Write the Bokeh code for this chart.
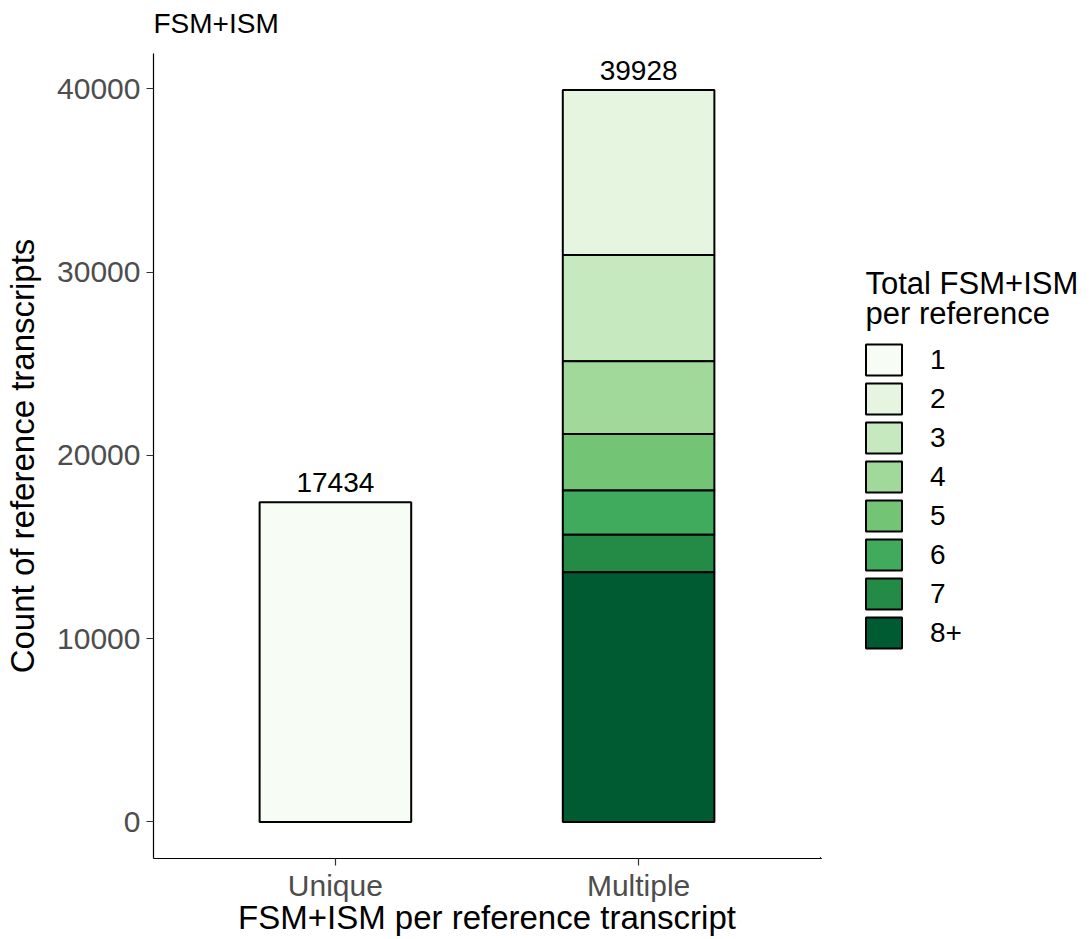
from bokeh.plotting import figure
from bokeh.models import ColumnDataSource, FixedTicker, Range1d, Label
from bokeh.layouts import column, row
from bokeh.palettes import Greens8
from bokeh.embed import file_html
from bokeh.resources import INLINE

# ---- data ----
categories = ["Unique", "Multiple"]
groups = ["1", "2", "3", "4", "5", "6", "7", "8+"]
unique_counts = [17434, 0, 0, 0, 0, 0, 0, 0]
multiple_counts = [0, 8993, 5803, 3970, 3082, 2416, 2040, 13624]
y_ticks = [0, 10000, 20000, 30000, 40000]
colors = list(reversed(Greens8))  # group "1" lightest ... "8+" darkest

counts = {"Unique": unique_counts, "Multiple": multiple_counts}
FONT = "Liberation Sans"
BASE_FIX = 9  # svg alphabetic-baseline correction (px)

# stacked segments: "8+" at the bottom, "1" on top
rows = []
for ci, cat in enumerate(categories):
    bottom = 0
    for gi in reversed(range(len(groups))):
        v = counts[cat][gi]
        if v > 0:
            rows.append((gi, ci + 1, bottom, bottom + v))
            bottom += v
rows.sort(key=lambda r: r[0])
seg = ColumnDataSource(dict(
    x=[r[1] for r in rows],
    bottom=[r[2] for r in rows],
    top=[r[3] for r in rows],
    group=[groups[r[0]] for r in rows],
    color=[colors[r[0]] for r in rows],
))

totals = [sum(counts[c]) for c in categories]
tot_src = ColumnDataSource(dict(x=[i + 1 for i in range(len(categories))],
                                y=totals, label=[str(t) for t in totals]))

ymax = max(totals)
pad = 0.05 * ymax

# ---- layout sizes (px) ----
W, H = 1090, 939
TOP_H = 53
MAIN_W = 820
LEG_W = W - MAIN_W
BODY_H = H - TOP_H
BOTTOM_BORDER = 81
FRAME_H = BODY_H - BOTTOM_BORDER   # shared frame height of the body row
FRAME_BOTTOM_ABS = TOP_H + FRAME_H


def bare(fig):
    fig.outline_line_color = None
    fig.xgrid.visible = False
    fig.ygrid.visible = False
    return fig


# ---- top strip with the plot title ----
top = bare(figure(width=W, height=TOP_H, output_backend="svg", toolbar_location=None,
                  x_range=Range1d(0, 1), y_range=Range1d(0, 1),
                  x_axis_location=None, y_axis_location=None, min_border=0))
top.add_layout(Label(x=153, y=TOP_H - 32 + BASE_FIX, x_units="screen", y_units="screen",
                     text="FSM+ISM", text_font=FONT, text_font_size="28px",
                     text_color="black", text_baseline="alphabetic"))

# ---- main chart ----
p = bare(figure(width=MAIN_W, height=BODY_H, output_backend="svg", toolbar_location=None,
                x_range=Range1d(0.4, len(categories) + 0.6), y_range=Range1d(-pad, ymax + pad),
                min_border_left=153, min_border_right=0, min_border_top=0,
                min_border_bottom=BOTTOM_BORDER))

p.vbar(x="x", bottom="bottom", top="top", width=0.5, source=seg,
       fill_color="color", line_color="black", line_width=2)

p.text(x="x", y="y", text="label", source=tot_src, text_align="center",
       text_baseline="alphabetic", y_offset=-20, text_font_size="28px",
       text_font={"value": FONT}, text_color="black")

for ax in (p.xaxis[0], p.yaxis[0]):
    ax.axis_line_color = "black"
    ax.axis_line_width = 1.2
    ax.major_tick_line_color = "#333333"
    ax.major_tick_line_width = 1.2
    ax.major_tick_out = 7
    ax.major_tick_in = 0
    ax.minor_tick_line_color = None
    ax.major_label_text_font = FONT
    ax.major_label_text_font_size = "30px"
    ax.major_label_text_color = "#4d4d4d"
    ax.axis_label_text_font = FONT
    ax.axis_label_text_font_size = "33px"
    ax.axis_label_text_font_style = "normal"
    ax.axis_label_text_color = "black"

p.xaxis.ticker = FixedTicker(ticks=[i + 1 for i in range(len(categories))])
p.xaxis.major_label_overrides = {i + 1: c for i, c in enumerate(categories)}
p.xaxis.axis_label = "FSM+ISM per reference transcript"
p.xaxis.major_label_standoff = 3
p.xaxis.axis_label_standoff = -6

p.yaxis.ticker = FixedTicker(ticks=y_ticks)
p.yaxis.major_label_overrides = {t: str(t) for t in y_ticks}
p.yaxis.axis_label = "Count of reference transcripts"
p.yaxis.major_label_standoff = 6
p.yaxis.axis_label_standoff = 13

# ---- legend panel (same segments, drawn far out of view; only the legend shows) ----
leg = bare(figure(width=LEG_W, height=BODY_H, output_backend="svg", toolbar_location=None,
                  x_range=Range1d(1000, 1001), y_range=Range1d(1e7, 1e7 + 1),
                  x_axis_location=None, y_axis_location=None, min_border=0))
leg.vbar(x="x", bottom="bottom", top="top", width=0.5, source=seg,
         fill_color="color", line_color="black", line_width=2, legend_field="group")
lg = leg.legend[0]
lg.location = (41, FRAME_BOTTOM_ABS - 652)
lg.padding = 0
lg.margin = 0
lg.spacing = 0
lg.glyph_width = 45
lg.glyph_height = 39
lg.label_standoff = 24
lg.label_text_font = FONT
lg.label_text_font_size = "28px"
lg.label_text_color = "black"
lg.background_fill_alpha = 0
lg.border_line_alpha = 0

# legend title (two lines)
for txt, base in (("Total FSM+ISM", 292), ("per reference", 322)):
    leg.add_layout(Label(x=45, y=FRAME_BOTTOM_ABS - base + BASE_FIX,
                         x_units="screen", y_units="screen",
                         text=txt, text_font=FONT, text_font_size="31px",
                         text_color="black", text_baseline="alphabetic"))

layout = column(top, row(p, leg, spacing=0), spacing=0)
open("out.html", "w").write(file_html(layout, INLINE))
